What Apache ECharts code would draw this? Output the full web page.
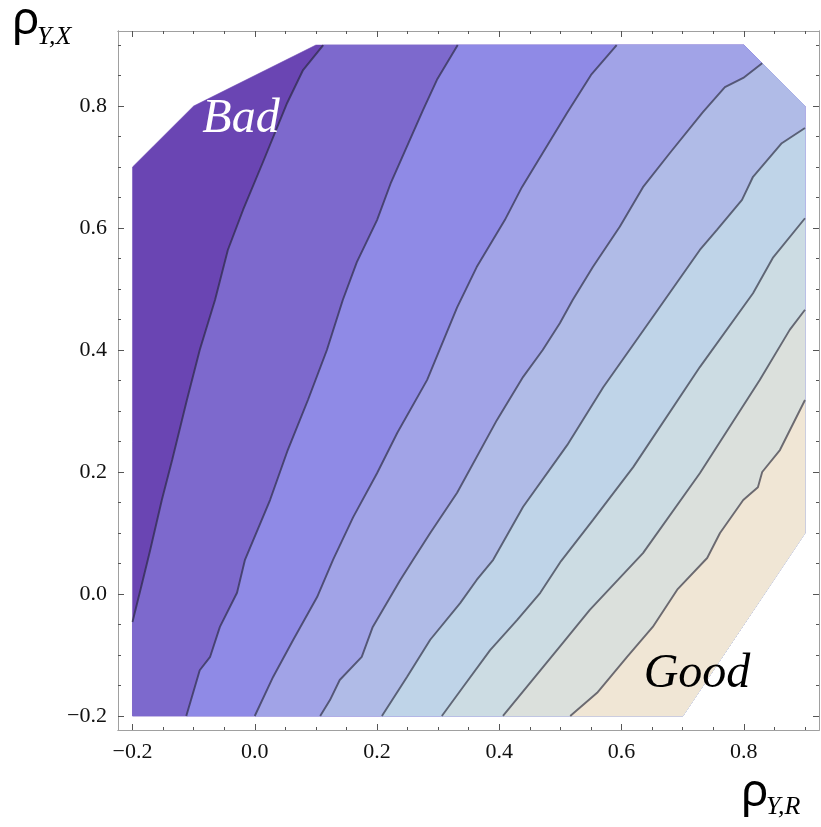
<!DOCTYPE html>
<html>
<head>
<meta charset="utf-8">
<script src="https://cdn.jsdelivr.net/npm/echarts@6/dist/echarts.min.js"></script>
<style>
  html, body { margin: 0; background: #fff; }
  #chart { width: 821px; height: 827px; }
</style>
</head>
<body>
<div id="chart"></div>
<script>
// corners of the plotted region, clockwise from bottom-left
var domainCorners = [[-0.2, -0.2], [-0.2, 0.7], [-0.1, 0.8], [0.1, 0.9], [0.8, 0.9], [0.9, 0.8], [0.9, 0.1], [0.7, -0.2]];

// contour lines (rho_YR, rho_YX)
var line1 = [[-0.2, -0.046], [-0.183, 0.023], [-0.171, 0.072], [-0.152, 0.154], [-0.135, 0.220], [-0.111, 0.318], [-0.090, 0.400], [-0.065, 0.482], [-0.044, 0.564], [-0.019, 0.630], [0.013, 0.707], [0.053, 0.805], [0.079, 0.859], [0.112, 0.9]];
var line2 = [[-0.112, -0.2], [-0.090, -0.125], [-0.073, -0.103], [-0.057, -0.054], [-0.029, 0.002], [-0.016, 0.056], [0.025, 0.154], [0.054, 0.236], [0.087, 0.318], [0.118, 0.400], [0.144, 0.482], [0.167, 0.544], [0.200, 0.613], [0.223, 0.675], [0.275, 0.793], [0.298, 0.843], [0.332, 0.9]];
var line3 = [[0.000, -0.2], [0.030, -0.136], [0.063, -0.075], [0.102, -0.005], [0.128, 0.056], [0.161, 0.126], [0.200, 0.198], [0.233, 0.264], [0.282, 0.351], [0.331, 0.470], [0.363, 0.536], [0.409, 0.613], [0.437, 0.667], [0.511, 0.789], [0.550, 0.851], [0.592, 0.9]];
var line4 = [[0.107, -0.2], [0.123, -0.174], [0.139, -0.141], [0.175, -0.103], [0.193, -0.054], [0.238, 0.023], [0.259, 0.056], [0.287, 0.100], [0.331, 0.166], [0.396, 0.285], [0.439, 0.356], [0.471, 0.400], [0.499, 0.444], [0.520, 0.482], [0.553, 0.536], [0.597, 0.602], [0.635, 0.667], [0.679, 0.723], [0.733, 0.790], [0.769, 0.831], [0.799, 0.846], [0.830, 0.870]];
var line5 = [[0.208, -0.2], [0.249, -0.136], [0.287, -0.075], [0.336, -0.015], [0.363, 0.023], [0.390, 0.056], [0.439, 0.143], [0.511, 0.244], [0.570, 0.339], [0.651, 0.454], [0.728, 0.564], [0.756, 0.597], [0.797, 0.646], [0.815, 0.684], [0.862, 0.739], [0.9, 0.764]];
var line6 = [[0.306, -0.2], [0.341, -0.152], [0.385, -0.092], [0.429, -0.043], [0.467, 0.002], [0.501, 0.054], [0.553, 0.121], [0.619, 0.208], [0.728, 0.372], [0.815, 0.493], [0.848, 0.552], [0.9, 0.616]];
var line7 = [[0.406, -0.2], [0.450, -0.146], [0.504, -0.080], [0.548, -0.026], [0.594, 0.023], [0.635, 0.067], [0.728, 0.198], [0.826, 0.351], [0.875, 0.433], [0.9, 0.466]];
var line8 = [[0.516, -0.2], [0.560, -0.162], [0.609, -0.103], [0.651, -0.054], [0.691, 0.007], [0.740, 0.059], [0.761, 0.100], [0.799, 0.154], [0.823, 0.175], [0.830, 0.200], [0.859, 0.236], [0.9, 0.318]];
var contourLines = [line1, line2, line3, line4, line5, line6, line7, line8];

// band fills, from "Bad" to "Good"
var bandColors = ['#6a45b3', '#7d69cd', '#8f8ae6', '#a1a3e7', '#b0bbe7', '#bfd4e8', '#ccdce3', '#dbe0dc', '#f0e6d5'];

var majorTicks = [-0.2, 0, 0.2, 0.4, 0.6, 0.8];
var minorTicks = [-0.2, -0.15, -0.1, -0.05, 0, 0.05, 0.1, 0.15, 0.2, 0.25, 0.3, 0.35, 0.4, 0.45, 0.5, 0.55, 0.6, 0.65, 0.7, 0.75, 0.8, 0.85, 0.9];

var xMin = -0.2237, xMax = 0.9229, yMin = -0.223, yMax = 0.923;

// where a boundary point sits along the domain outline (segment index + fraction)
function boundaryParam(p) {
  var n = domainCorners.length, best = 0, bestD = Infinity;
  for (var i = 0; i < n; i++) {
    var a = domainCorners[i], b = domainCorners[(i + 1) % n];
    var dx = b[0] - a[0], dy = b[1] - a[1];
    var t = ((p[0] - a[0]) * dx + (p[1] - a[1]) * dy) / (dx * dx + dy * dy);
    t = Math.max(0, Math.min(1, t));
    var qx = a[0] + t * dx - p[0], qy = a[1] + t * dy - p[1];
    var d = qx * qx + qy * qy;
    if (d < bestD) { bestD = d; best = i + t; }
  }
  return best;
}

// region to the lower right of a contour line: the line, then the outline back to its start
function regionRightOf(line) {
  var n = domainCorners.length;
  var s = boundaryParam(line[0]), e = boundaryParam(line[line.length - 1]);
  if (s <= e) s += n;
  var pts = line.slice();
  for (var k = Math.floor(e) + 1; k < s; k++) pts.push(domainCorners[k % n]);
  return pts;
}

var regions = [domainCorners].concat(contourLines.map(regionRightOf));

var serif = 'Liberation Serif';

function fmt(v) {
  return v.toFixed(1).replace('-', '\u2212');
}

function frameAxis(kind, pos, ticks, len, labels) {
  return {
    type: 'value',
    position: pos,
    min: kind === 'x' ? xMin : yMin,
    max: kind === 'x' ? xMax : yMax,
    axisLine: { show: true, onZero: false, lineStyle: { color: '#a0a0a0', width: 1 } },
    axisTick: { show: true, inside: true, length: len, customValues: ticks, lineStyle: { color: '#555', width: 1 } },
    axisLabel: labels ? {
      show: true, customValues: majorTicks, formatter: fmt,
      fontFamily: serif, fontSize: 22, color: '#111', margin: kind === 'x' ? 11 : 11
    } : { show: false },
    splitLine: { show: false }
  };
}

var chart = echarts.init(document.getElementById('chart'));

var series = [{
  type: 'custom',
  xAxisIndex: 0,
  yAxisIndex: 0,
  silent: true,
  data: regions.map(function (r, i) { return [i]; }),
  renderItem: function (params, api) {
    var i = params.dataIndex;
    return {
      type: 'polygon',
      shape: { points: regions[i].map(function (p) { return api.coord(p); }) },
      style: { fill: bandColors[i], stroke: bandColors[i], lineWidth: 0.5 }
    };
  },
  z: 1
}];

contourLines.forEach(function (l) {
  series.push({
    type: 'line',
    xAxisIndex: 0,
    yAxisIndex: 0,
    data: l,
    showSymbol: false,
    silent: true,
    lineStyle: { color: 'rgba(30,30,48,0.62)', width: 1.9 },
    z: 2
  });
});

chart.setOption({
  animation: false,
  grid: { left: 118, top: 31, width: 701, height: 699, containLabel: false },
  xAxis: [
    frameAxis('x', 'bottom', majorTicks, 6, true),
    frameAxis('x', 'top', majorTicks, 6, false),
    frameAxis('x', 'bottom', minorTicks, 3, false),
    frameAxis('x', 'top', minorTicks, 3, false)
  ],
  yAxis: [
    frameAxis('y', 'left', majorTicks, 6, true),
    frameAxis('y', 'right', majorTicks, 6, false),
    frameAxis('y', 'left', minorTicks, 3, false),
    frameAxis('y', 'right', minorTicks, 3, false)
  ],
  graphic: [
    { type: 'text', x: 12, y: 21, style: { text: '\u03c1', font: '46px "Noto Sans"', fill: '#000', verticalAlign: 'middle' } },
    { type: 'text', x: 37, y: 37, style: { text: 'Y,X', font: 'italic 26px "Liberation Serif"', fill: '#000', verticalAlign: 'middle' } },
    { type: 'text', x: 741, y: 793, style: { text: '\u03c1', font: '46px "Noto Sans"', fill: '#000', verticalAlign: 'middle' } },
    { type: 'text', x: 766, y: 807, style: { text: 'Y,R', font: 'italic 26px "Liberation Serif"', fill: '#000', verticalAlign: 'middle' } },
    { type: 'text', x: 241, y: 119, z: 10, style: { text: 'Bad', font: 'italic 48px "Liberation Serif"', fill: '#fff', align: 'center', verticalAlign: 'middle' } },
    { type: 'text', x: 697, y: 674, z: 10, style: { text: 'Good', font: 'italic 48px "Liberation Serif"', fill: '#000', align: 'center', verticalAlign: 'middle' } }
  ],
  series: series
});
</script>
</body>
</html>
